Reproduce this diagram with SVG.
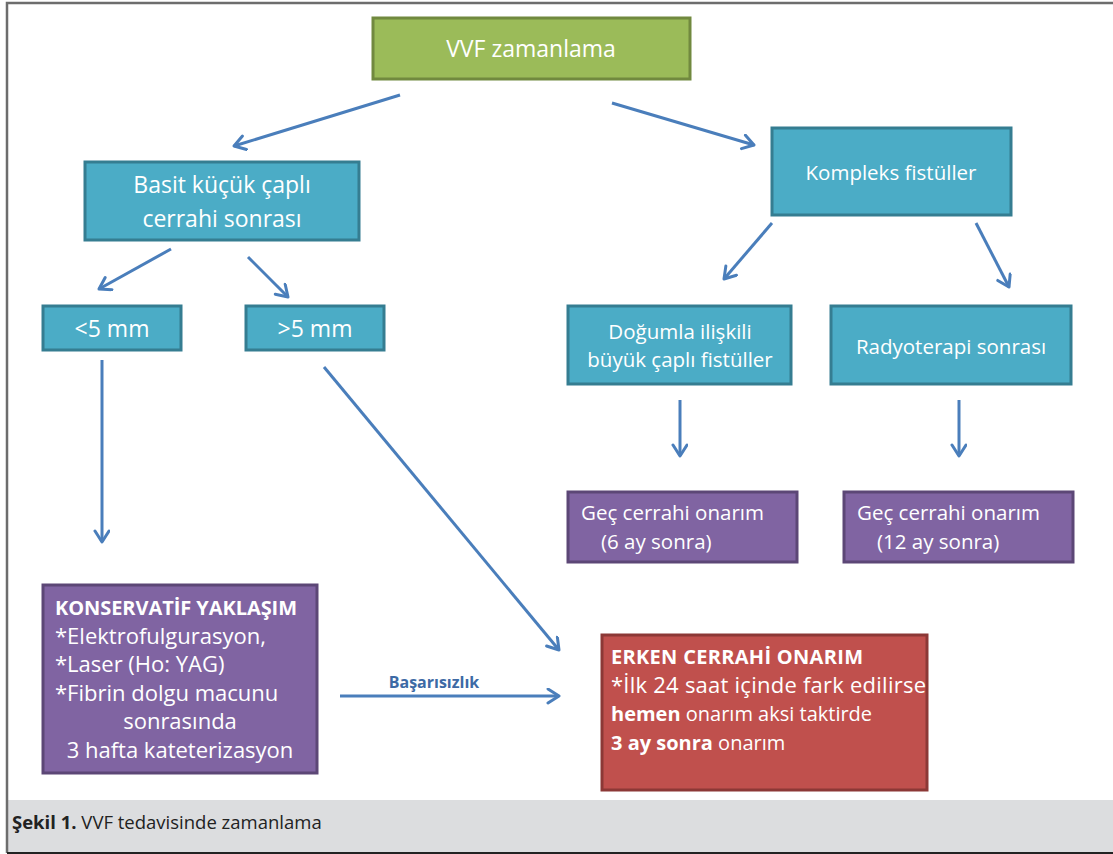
<svg xmlns="http://www.w3.org/2000/svg" width="1113" height="854" viewBox="0 0 1113 854">
<style>
  text { font-family: "Open Sans", "Noto Sans", "Liberation Sans", sans-serif; fill: #ffffff; }
  .c { text-anchor: middle; }
  .b { font-weight: bold; }
  .teal { fill: #4bacc6; stroke: #357d91; stroke-width: 3; }
  .purple { fill: #8064a2; stroke: #5c4776; stroke-width: 3; }
  .red { fill: #c0504d; stroke: #8c3836; stroke-width: 3; }
  .green { fill: #9bbb59; stroke: #71893f; stroke-width: 3; }
  .conn { stroke: #4a7ebb; stroke-width: 3; fill: none; marker-end: url(#arr); }
</style>
<defs>
  <marker id="arr" markerUnits="userSpaceOnUse" markerWidth="20" markerHeight="20" refX="13" refY="8" orient="auto">
    <path d="M2,1 L13,8 L2,15" fill="none" stroke="#4a7ebb" stroke-width="3" stroke-linecap="round" stroke-linejoin="round"/>
  </marker>
</defs>
<rect x="0" y="0" width="1113" height="854" fill="#ffffff"/>
<rect x="8" y="800" width="1105" height="52" fill="#dcdddf"/>
<path d="M7,853 V3 H1113" fill="none" stroke="#6d6d6d" stroke-width="2.5"/>
<line x1="7" y1="853" x2="1113" y2="853" stroke="#222" stroke-width="2"/>
<text x="12" y="829" style="fill:#222; font-size:18.5px"><tspan class="b">Şekil 1.</tspan> VVF tedavisinde zamanlama</text>

<g id="connectors">
  <line class="conn" x1="400" y1="95" x2="234" y2="146"/>
  <line class="conn" x1="612" y1="103" x2="754" y2="145"/>
  <line class="conn" x1="171" y1="249" x2="99" y2="289"/>
  <line class="conn" x1="248" y1="257" x2="288" y2="297"/>
  <line class="conn" x1="772" y1="223" x2="724" y2="279"/>
  <line class="conn" x1="976" y1="223" x2="1009" y2="287"/>
  <line class="conn" x1="680" y1="400" x2="680" y2="456"/>
  <line class="conn" x1="959" y1="400" x2="959" y2="456"/>
  <line class="conn" x1="102" y1="360" x2="102" y2="542"/>
  <line class="conn" x1="324" y1="367" x2="559" y2="650"/>
  <line class="conn" x1="340" y1="696" x2="559" y2="696"/>
  <text x="434" y="688" class="c b" style="fill:#3d6aa5; font-size:16px">Başarısızlık</text>
</g>

<g id="vvf">
  <rect class="green" x="373" y="18" width="317" height="61"/>
  <text x="531" y="57" class="c" style="font-size:23px">VVF zamanlama</text>
</g>
<g id="basit">
  <rect class="teal" x="85" y="162" width="274" height="78"/>
  <text x="222" y="193" class="c" style="font-size:23px">Basit küçük çaplı</text>
  <text x="222" y="227" class="c" style="font-size:23px">cerrahi sonrası</text>
</g>
<g id="kompleks">
  <rect class="teal" x="772" y="128" width="239" height="87"/>
  <text x="891" y="180" class="c" style="font-size:20.5px">Kompleks fistüller</text>
</g>
<g id="lt5">
  <rect class="teal" x="43" y="306" width="138" height="44"/>
  <text x="112" y="337" class="c" style="font-size:23px">&lt;5 mm</text>
</g>
<g id="gt5">
  <rect class="teal" x="246" y="306" width="138" height="44"/>
  <text x="315" y="337" class="c" style="font-size:23px">&gt;5 mm</text>
</g>
<g id="dogumla">
  <rect class="teal" x="568" y="306" width="223" height="78"/>
  <text x="680" y="339" class="c" style="font-size:20.5px">Doğumla ilişkili</text>
  <text x="680" y="367" class="c" style="font-size:20.5px">büyük çaplı fistüller</text>
</g>
<g id="radyo">
  <rect class="teal" x="831" y="306" width="240" height="78"/>
  <text x="951" y="354" class="c" style="font-size:20.5px">Radyoterapi sonrası</text>
</g>
<g id="gec6">
  <rect class="purple" x="568" y="492" width="229" height="70"/>
  <text x="581" y="520" style="font-size:20.5px">Geç cerrahi onarım</text>
  <text x="601" y="549" style="font-size:20.5px">(6 ay sonra)</text>
</g>
<g id="gec12">
  <rect class="purple" x="844" y="492" width="229" height="70"/>
  <text x="857" y="520" style="font-size:20.5px">Geç cerrahi onarım</text>
  <text x="877" y="549" style="font-size:20.5px">(12 ay sonra)</text>
</g>
<g id="konservatif">
  <rect class="purple" x="43" y="585" width="274" height="188"/>
  <text x="55" y="615" class="b" style="font-size:20px" textLength="242">KONSERVATİF YAKLAŞIM</text>
  <text x="55" y="644" style="font-size:22px">*Elektrofulgurasyon,</text>
  <text x="55" y="672" style="font-size:22px">*Laser (Ho: YAG)</text>
  <text x="55" y="701" style="font-size:22px">*Fibrin dolgu macunu</text>
  <text x="180" y="729" class="c" style="font-size:22px">sonrasında</text>
  <text x="180" y="758" class="c" style="font-size:22px">3 hafta kateterizasyon</text>
</g>
<g id="erken">
  <rect class="red" x="602" y="635" width="325" height="155"/>
  <text x="611" y="664" class="b" style="font-size:20px" textLength="252">ERKEN CERRAHİ ONARIM</text>
  <text x="611" y="693" style="font-size:22px" textLength="315">*İlk 24 saat içinde fark edilirse</text>
  <text x="611" y="721" style="font-size:20px"><tspan class="b">hemen</tspan> onarım aksi taktirde</text>
  <text x="611" y="750" style="font-size:20px"><tspan class="b">3 ay sonra</tspan> onarım</text>
</g>
</svg>
